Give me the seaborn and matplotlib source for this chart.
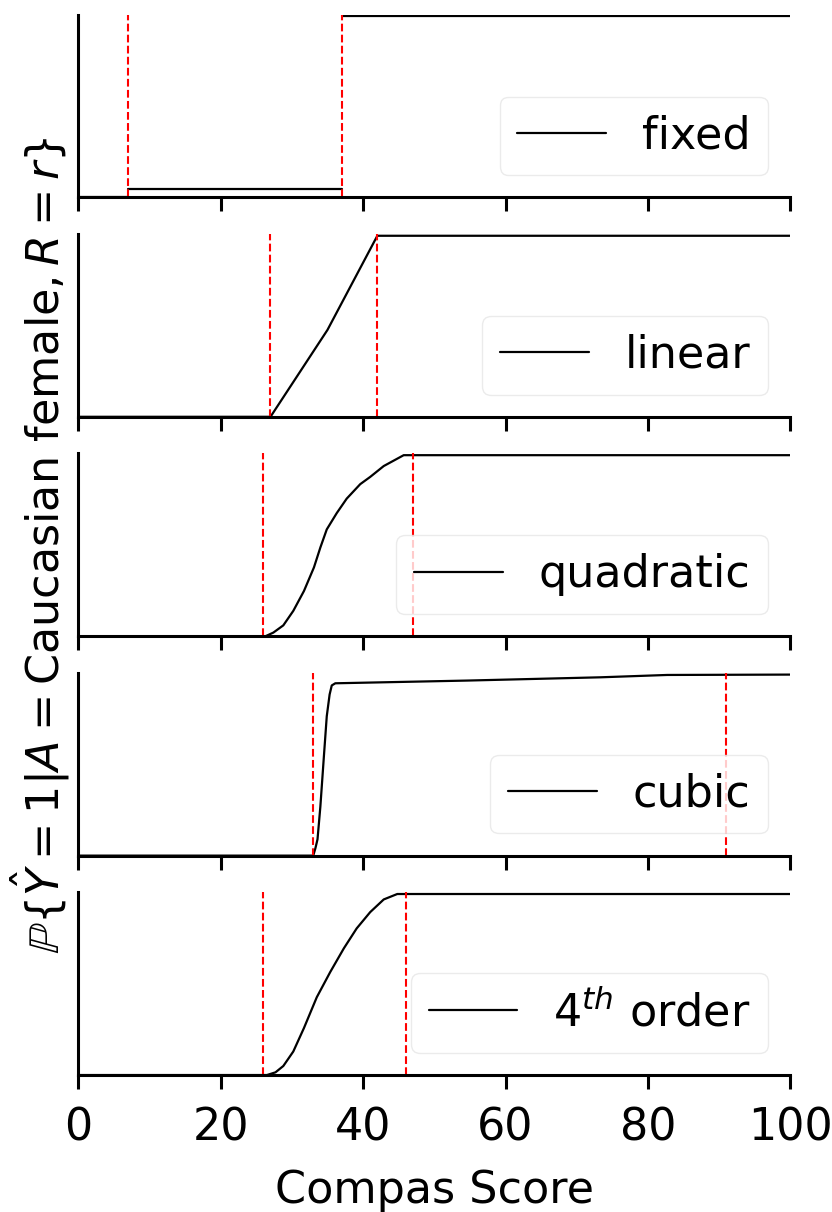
import pandas as pd
import matplotlib
matplotlib.use('Agg')
import matplotlib.pyplot as plt
import seaborn as sns

# curves (compas score vs P{Yhat=1})
# fixed is a step: drawn as separate flat pieces
fixed_zero_x = [0, 7]
fixed_zero_y = [0, 0]
fixed_low_x = [7, 37]
fixed_low_y = [0.045, 0.045]
fixed_high_x = [37, 100]
fixed_high_y = [1, 1]

linear_x = [0, 27, 35, 42, 100]
linear_y = [0, 0, 0.48, 1, 1]

quad_x = [0, 26.3, 27.4, 28.8, 30.2, 31.7, 33.1, 34.0, 34.9, 36.3, 37.7,
          39.6, 41.0, 42.9, 44.3, 45.7, 100]
quad_y = [0, 0, 0.02, 0.06, 0.14, 0.25, 0.38, 0.49, 0.59, 0.68, 0.76,
          0.84, 0.88, 0.94, 0.97, 1.0, 1.0]

cubic_x = [0, 33.0, 33.3, 33.6, 34.0, 34.5, 34.9, 35.3, 35.6, 36.1,
           54.6, 73.3, 82.7, 100]
cubic_y = [0, 0, 0.04, 0.09, 0.27, 0.55, 0.77, 0.89, 0.94, 0.952,
           0.967, 0.985, 0.998, 1.0]

quart_x = [0, 26.5, 27.7, 28.8, 30.2, 31.7, 33.5, 35.4, 37.3, 39.1,
           41.0, 42.9, 44.8, 100]
quart_y = [0, 0, 0.015, 0.05, 0.13, 0.26, 0.43, 0.57, 0.70, 0.81,
           0.90, 0.97, 1.0, 1.0]

labels = ['fixed', 'linear', 'quadratic', 'cubic', r'$4^{th}$ order']
thresholds = [(7, 37), (27, 42), (26, 47), (33, 91), (26, 46)]
curves = [[(fixed_high_x, fixed_high_y), (fixed_low_x, fixed_low_y),
           (fixed_zero_x, fixed_zero_y)],
          [(linear_x, linear_y)],
          [(quad_x, quad_y)],
          [(cubic_x, cubic_y)],
          [(quart_x, quart_y)]]

sns.set_style('ticks', {'axes.edgecolor': 'black', 'text.color': 'black',
                        'xtick.color': 'black', 'ytick.color': 'black',
                        'axes.labelcolor': 'black'})
plt.rcParams['font.size'] = 32

fig, axes = plt.subplots(5, 1, sharex=True, figsize=(8.32, 12.12), dpi=100)
fig.subplots_adjust(left=0.094, right=0.95, top=0.988, bottom=0.113, hspace=0.2)

for ax, pieces, lab, (lo, hi) in zip(axes, curves, labels, thresholds):
    for i, (xs, ys) in enumerate(pieces):
        df = pd.DataFrame({'score': xs, 'prob': ys})
        sns.lineplot(data=df, x='score', y='prob', ax=ax, color='k', lw=1.6,
                     estimator=None, sort=False,
                     label=lab if i == 0 else None)
    ax.axvline(lo, color='red', ls='--', lw=1.5)
    ax.axvline(hi, color='red', ls='--', lw=1.5)
    ax.set_xlim(0, 100)
    ax.set_ylim(0, 1.01)
    ax.set_yticks([])
    ax.set_ylabel('')
    ax.set_xlabel('')
    sns.despine(ax=ax)
    for s in ['left', 'bottom']:
        ax.spines[s].set_linewidth(2.2)
    ax.tick_params(axis='x', length=10, width=2.2, labelsize=32, pad=13)
    leg = ax.legend(loc='lower right', fontsize=32, handlelength=2)
    leg.get_frame().set_edgecolor('0.9')

axes[-1].set_xticks([0, 20, 40, 60, 80, 100])
axes[-1].set_xlabel('Compas Score', fontsize=32, labelpad=14)

fig.text(0.048, 1 - 545 / 1212,
         r'$\mathbb{P}\{\hat{Y}=1|A=$Caucasian female$, R=r\}$',
         rotation=90, ha='center', va='center', fontsize=32)

fig.savefig('out.png', dpi=100)
